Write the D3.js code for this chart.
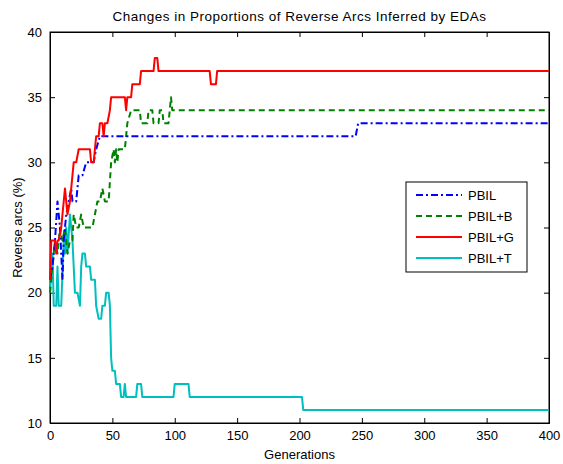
<!DOCTYPE html>
<html><head><meta charset="utf-8">
<script src="https://cdn.jsdelivr.net/npm/d3@7"></script>
<style>body{margin:0;background:#fff;} svg{display:block;font-family:"Liberation Sans",Arial,sans-serif;}</style>
</head><body>
<svg id="c" width="563" height="464"></svg>
<script>
const title = "Changes in Proportions of Reverse Arcs Inferred by EDAs";
const xLabel = "Generations";
const yLabel = "Reverse arcs (%)";
const xTicks = [0,50,100,150,200,250,300,350,400];
const yTicks = [10,15,20,25,30,35,40];
const seriesNames = ["PBIL","PBIL+B","PBIL+G","PBIL+T"];

const pbilGen = [0,2,4,6,8,10,11,13,15,17,18,19,21,23,26,29,33,35,37,40,245,247,400];
const pbilVal = [21,22,24,27,25,21,24,26,27,28,27,27,27,29,29,30,30,30,31,32,32,33,33];

const pbilBGen = [0,2,4,6,8,10,12,14,16,18,19,21,23,25,27,34,36,38,40,42,44,47,49,51,52,53,54,55,60,62,65,72,73,78,79,82,83,87,88,90,91,95,96,97,98,400];
const pbilBVal = [20,22,24,23,25,24,25,23,24,24,26,25,25,26,25,25,26,27,27,28,27,27,30,31,30,31,30,31,31,33,34,34,33,33,34,34,33,33,34,34,33,33,34,35,34,34];

const pbilGGen = [0,1,4,5,6,7,9,11,12,14,16,17,18,19,21,23,32,33,35,36,37,39,40,42,43,44,46,48,49,60,61,62,65,66,72,73,83,84,86,87,128,129,133,134,400];
const pbilGVal = [21,24,24,23,24,24,25,27,28,26,27,28,29,30,30,31,31,30,30,31,32,32,33,33,32,33,33,34,35,35,34,35,35,36,36,37,37,38,38,37,37,36,36,37,37];

const pbilTGen = [0,2,3,5,6,7,9,11,12,13,14,16,17,18,20,22,24,25,26,28,29,32,33,36,37,39,41,42,44,45,47,48,49,50,52,53,56,57,59,60,61,69,70,73,74,99,100,111,112,202,203,400];
const pbilTVal = [20,23,19,19,22,19,19,24,23,25,23,26,25,24,20,20,19,22,23,23,22,22,21,21,19,18,18,19,19,20,20,19,15,14,14,13,13,12,12,13,12,12,13,13,12,12,13,13,12,12,11,11];

const svg = d3.select("#c");
const m = {left:50, right:549, top:32, bottom:423};
const x = d3.scaleLinear().domain([0,400]).range([m.left, m.right]);
const y = d3.scaleLinear().domain([10,40]).range([m.bottom, m.top]);

svg.append("rect").attr("x",m.left).attr("y",m.top).attr("width",m.right-m.left).attr("height",m.bottom-m.top)
  .attr("fill","#fff").attr("stroke","#000").attr("stroke-width",1);

const tl = 5;
const gx = svg.append("g").attr("transform",`translate(0,${m.bottom})`)
  .call(d3.axisBottom(x).tickValues(xTicks).tickSize(-tl).tickPadding(tl+3).tickFormat(d3.format("d")));
const gxt = svg.append("g").attr("transform",`translate(0,${m.top})`)
  .call(d3.axisTop(x).tickValues(xTicks).tickSize(-tl).tickFormat(""));
const gy = svg.append("g").attr("transform",`translate(${m.left},0)`)
  .call(d3.axisLeft(y).tickValues(yTicks).tickSize(-tl).tickPadding(tl+3).tickFormat(d3.format("d")));
const gyr = svg.append("g").attr("transform",`translate(${m.right},0)`)
  .call(d3.axisRight(y).tickValues(yTicks).tickSize(-tl).tickFormat(""));
[gx,gxt,gy,gyr].forEach(g=>{
  g.select(".domain").attr("stroke","#000");
  g.selectAll(".tick line").attr("stroke","#000");
  g.selectAll("text").attr("font-family","Liberation Sans, Arial, sans-serif").attr("font-size",13).attr("fill","#000");
});

const series = [
  {name:seriesNames[0], g:pbilGen, v:pbilVal, color:"#0000ff", dash:"7,3,2,3"},
  {name:seriesNames[1], g:pbilBGen, v:pbilBVal, color:"#008000", dash:"6,4"},
  {name:seriesNames[2], g:pbilGGen, v:pbilGVal, color:"#ff0000", dash:null},
  {name:seriesNames[3], g:pbilTGen, v:pbilTVal, color:"#00bfbf", dash:null},
];
const line = d3.line().x(d=>x(d[0])).y(d=>y(d[1]));
const drawOrder = [3,1,0,2];
drawOrder.forEach(i=>{
  const s = series[i];
  svg.append("path").datum(s.g.map((g,k)=>[g,s.v[k]]))
    .attr("d",line).attr("fill","none").attr("stroke",s.color).attr("stroke-width",2)
    .attr("stroke-linejoin","round")
    .attr("stroke-dasharray",s.dash);
});

const lg = svg.append("g");
lg.append("rect").attr("x",406).attr("y",182).attr("width",121).attr("height",90)
  .attr("fill","#fff").attr("stroke","#000").attr("stroke-width",1);
series.forEach((s,i)=>{
  const yy = 195 + i*21;
  lg.append("line").attr("x1",416).attr("x2",462).attr("y1",yy).attr("y2",yy)
    .attr("stroke",s.color).attr("stroke-width",2).attr("stroke-dasharray",s.dash);
  lg.append("text").attr("x",468).attr("y",yy+4.5).attr("font-size",13).text(s.name);
});

svg.append("text").attr("x",(m.left+m.right)/2).attr("y",21).attr("text-anchor","middle")
  .attr("font-size",13.5).attr("letter-spacing",0.5).text(title);
svg.append("text").attr("x",(m.left+m.right)/2).attr("y",459).attr("text-anchor","middle")
  .attr("font-size",13).text(xLabel);
svg.append("text").attr("transform",`translate(22,${(m.top+m.bottom)/2}) rotate(-90)`)
  .attr("text-anchor","middle").attr("font-size",13).text(yLabel);
</script>
</body></html>
